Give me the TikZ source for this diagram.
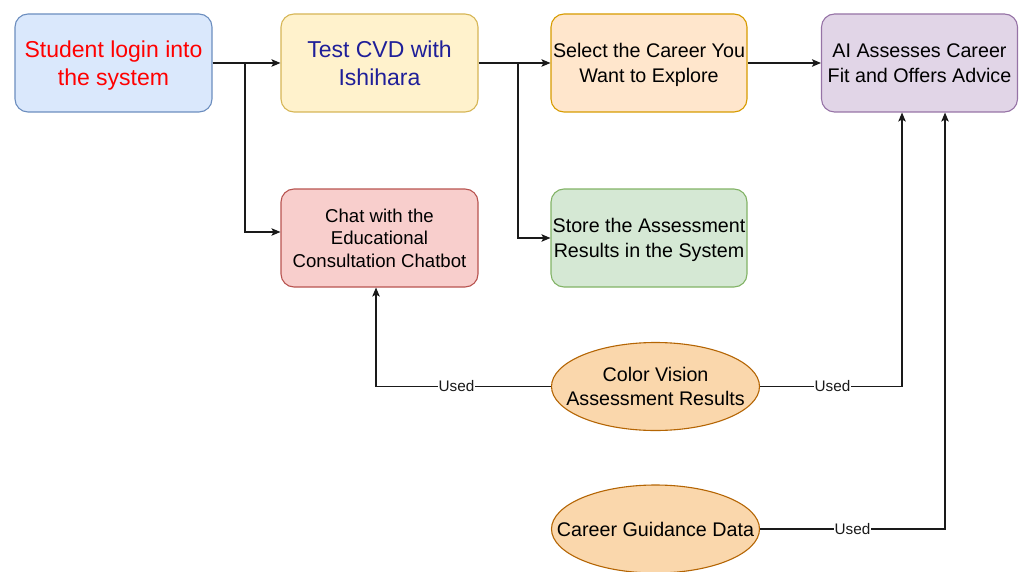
\documentclass[tikz,border=0pt]{standalone}
\usepackage{fontspec}
\setmainfont{Liberation Sans}
\usetikzlibrary{arrows.meta,shapes.geometric}

% fill / stroke pairs for the boxes
\definecolor{blueFill}{HTML}{DAE8FC}\definecolor{blueLine}{HTML}{6C8EBF}
\definecolor{yelFill}{HTML}{FFF2CC}\definecolor{yelLine}{HTML}{D6B656}
\definecolor{orgFill}{HTML}{FFE6CC}\definecolor{orgLine}{HTML}{D79B00}
\definecolor{purFill}{HTML}{E1D5E7}\definecolor{purLine}{HTML}{9673A6}
\definecolor{redFill}{HTML}{F8CECC}\definecolor{redLine}{HTML}{B85450}
\definecolor{grnFill}{HTML}{D5E8D4}\definecolor{grnLine}{HTML}{82B366}
\definecolor{dataFill}{HTML}{FAD7AC}\definecolor{dataLine}{HTML}{B46504}
\definecolor{loginText}{HTML}{FF0000}
\definecolor{testText}{HTML}{1F1F99}
\definecolor{wire}{HTML}{1A1A1A}

\tikzset{
  stepbox/.style={draw, line width=1.1pt, rounded corners=13pt,
    minimum width=197pt, minimum height=98pt, align=center, inner sep=1pt,
    text depth=0pt},
  bigtext/.style={font=\fontsize{23}{28}\selectfont},
  smalltext/.style={font=\fontsize{19.7}{24.5}\selectfont},
  datanode/.style={ellipse, draw=dataLine, fill=dataFill, line width=1.1pt,
    minimum width=208pt, minimum height=88pt, inner xsep=-32pt, inner ysep=0pt,
    align=center, font=\fontsize{19.7}{24}\selectfont},
  arr/.style={draw=wire, line width=1.2pt, -{Stealth[length=9pt,width=7.5pt,inset=2pt]}},
  usedlabel/.style={fill=white, inner sep=0.6pt, font=\fontsize{15.3}{18}\selectfont, text=wire}
}

\begin{document}
\begin{tikzpicture}[x=1pt,y=-1pt]
  \useasboundingbox (0,0) rectangle (1027,572);

  % process steps
  \node[stepbox, bigtext, fill=blueFill, draw=blueLine, text=loginText]
    (login) at (113.5,63) {Student login into\\the system};
  \node[stepbox, bigtext, fill=yelFill, draw=yelLine, text=testText]
    (test) at (379.5,63) {Test CVD with\\Ishihara};
  \node[stepbox, smalltext, fill=orgFill, draw=orgLine, minimum width=196pt]
    (select) at (649,63) {Select the Career You\\Want to Explore};
  \node[stepbox, smalltext, fill=purFill, draw=purLine, minimum width=196pt]
    (ai) at (919.5,63) {AI Assesses Career\\Fit and Offers Advice};
  \node[stepbox, font=\fontsize{18.6}{22.5}\selectfont, fill=redFill, draw=redLine]
    (chat) at (379.5,238) {Chat with the\\Educational\\Consultation Chatbot};
  \node[stepbox, smalltext, fill=grnFill, draw=grnLine, minimum width=196pt]
    (store) at (649,238) {Store the Assessment\\Results in the System};

  % data sources
  \node[datanode] (cva) at (655.5,386.5) {Color Vision\\Assessment Results};
  \node[datanode] (cgd) at (655.5,529) {Career Guidance Data};

  % branch points on the main flow
  \coordinate (j1) at (245,63);
  \coordinate (j2) at (518,63);

  % main flow
  \draw[arr] (login) -- (test);
  \draw[arr] (j1) |- ([yshift=6pt]chat.west);
  \draw[arr] (test) -- (select);
  \draw[arr] (j2) |- (store.west);
  \draw[arr] (select) -- (ai);

  % data usage
  \draw[arr] (cva.west) -| node[usedlabel, pos=0.27] {Used} ([xshift=-3.5pt]chat.south);
  \draw[arr] (cva.east) -| node[usedlabel, pos=0.255] {Used} ([xshift=-17.5pt]ai.south);
  \draw[arr] (cgd.east) -| node[usedlabel, pos=0.25] {Used} ([xshift=25.5pt]ai.south);
\end{tikzpicture}
\end{document}
